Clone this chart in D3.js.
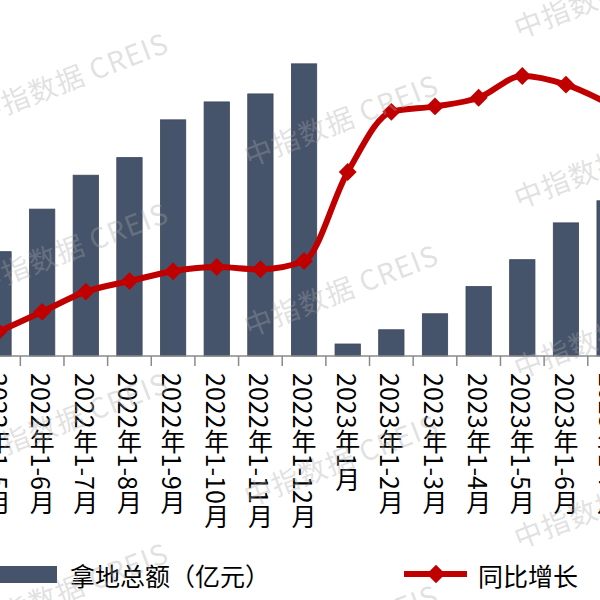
<!DOCTYPE html>
<html>
<head>
<meta charset="utf-8">
<script src="https://cdn.jsdelivr.net/npm/d3@7"></script>
<style>
  html, body { margin: 0; padding: 0; background: #fff; }
  svg { display: block; font-family: "Noto Sans CJK SC", "Noto Sans", sans-serif; }
</style>
</head>
<body>
<div id="chart"></div>
<script>
// categories (cumulative periods)
const periods = [
  "2022年1-5月", "2022年1-6月", "2022年1-7月", "2022年1-8月", "2022年1-9月",
  "2022年1-10月", "2022年1-11月", "2022年1-12月", "2023年1月", "2023年1-2月",
  "2023年1-3月", "2023年1-4月", "2023年1-5月", "2023年1-6月", "2023年1-7月"
];
// 拿地总额（亿元）
const landAmount = [3260, 4590, 5650, 6200, 7380, 7940, 8190, 9130, 375, 820, 1320, 2170, 3010, 4160, 4850];
// 同比增长 (%)
const yoyGrowth = [-72.4, -66.2, -59.9, -56.6, -53.5, -52.2, -52.9, -50.3, -22.5, -3.7, -2.0, 0.7, 7.5, 4.8, -1.3];

const W = 600, H = 600;
const baseY = 356;
const step = 43.65;
const firstCenter = -1.5;

const svg = d3.select("#chart").append("svg")
  .attr("width", W)
  .attr("height", H);

// x scale - chart is cropped on both sides
const x = d3.scaleBand()
  .domain(periods)
  .range([firstCenter - step / 2, firstCenter - step / 2 + step * periods.length])
  .paddingInner(0.42)
  .paddingOuter(0.21);

const y = d3.scaleLinear().domain([0, 10000]).range([baseY, 36]);
const y2 = d3.scaleLinear().domain([-80, 20]).range([baseY, 36]);

// bars
svg.append("g")
  .selectAll("rect")
  .data(periods)
  .enter()
  .append("rect")
  .attr("x", (d) => x(d))
  .attr("y", (d, i) => y(landAmount[i]))
  .attr("width", x.bandwidth())
  .attr("height", (d, i) => baseY - y(landAmount[i]))
  .attr("fill", "#46546b")
  .attr("stroke", "#3b475b")
  .attr("stroke-width", 0.8);

// axis line + ticks between categories
const cx = (d) => x(d) + x.bandwidth() / 2;
const axis = svg.append("g").attr("class", "x-axis");
axis.append("line")
  .attr("x1", 0).attr("x2", W)
  .attr("y1", baseY).attr("y2", baseY)
  .attr("stroke", "#8a8a8a").attr("stroke-width", 1.5);
const bounds = periods.map((d) => cx(d) - x.step() / 2);
bounds.push(cx(periods[periods.length - 1]) + x.step() / 2);
axis.selectAll(".tick")
  .data(bounds)
  .enter()
  .append("line")
  .attr("class", "tick")
  .attr("x1", (d) => d).attr("x2", (d) => d)
  .attr("y1", baseY).attr("y2", baseY + 10)
  .attr("stroke", "#8a8a8a").attr("stroke-width", 1.5);

// vertical category labels
axis.selectAll(".label")
  .data(periods)
  .enter()
  .append("text")
  .attr("class", "label")
  .attr("x", (d) => cx(d))
  .attr("y", 373)
  .style("writing-mode", "vertical-rl")
  .style("font-size", "25px")
  .attr("fill", "#000")
  .text((d) => d);

// yoy line (smoothed)
const line = d3.line()
  .x((d, i) => cx(periods[i]))
  .y((d) => y2(d))
  .curve(d3.curveMonotoneX);

svg.append("path")
  .datum(yoyGrowth)
  .attr("fill", "none")
  .attr("stroke", "#c00000")
  .attr("stroke-width", 6)
  .attr("stroke-linejoin", "round")
  .attr("d", line);

const diamond = d3.symbol().type(d3.symbolSquare).size(160);
svg.append("g")
  .selectAll("path")
  .data(yoyGrowth)
  .enter()
  .append("path")
  .attr("d", diamond)
  .attr("transform", (d, i) => `translate(${cx(periods[i])},${y2(d)}) rotate(45)`)
  .attr("fill", "#c00000");

// legend
const legend = svg.append("g").attr("class", "legend");
legend.append("rect")
  .attr("x", 0).attr("y", 566)
  .attr("width", 57).attr("height", 17)
  .attr("fill", "#46546b");
legend.append("text")
  .attr("x", 70).attr("y", 575)
  .attr("dominant-baseline", "central")
  .style("font-size", "25px")
  .text("拿地总额（亿元）");
legend.append("line")
  .attr("x1", 404).attr("x2", 467)
  .attr("y1", 574).attr("y2", 574)
  .attr("stroke", "#c00000").attr("stroke-width", 6);
legend.append("path")
  .attr("d", d3.symbol().type(d3.symbolSquare).size(170))
  .attr("transform", "translate(436,574) rotate(45)")
  .attr("fill", "#c00000");
legend.append("text")
  .attr("x", 478).attr("y", 575)
  .attr("dominant-baseline", "central")
  .style("font-size", "25px")
  .text("同比增长");

// watermark
const marks = [];
for (let i = -1; i <= 2; i++) {
  for (let j = -1; j <= 3; j++) {
    marks.push([249 + 270 * i, 167 + 42 * i + 170 * j]);
  }
}
svg.append("g")
  .attr("class", "watermark")
  .selectAll("text")
  .data(marks)
  .enter()
  .append("text")
  .attr("transform", (d) => `translate(${d[0]},${d[1]}) rotate(-21)`)
  .style("font-size", "28px")
  .style("letter-spacing", "1px")
  .attr("fill", "#a8a8a8")
  .attr("fill-opacity", 0.35)
  .text("中指数据 CREIS");
</script>
</body>
</html>
